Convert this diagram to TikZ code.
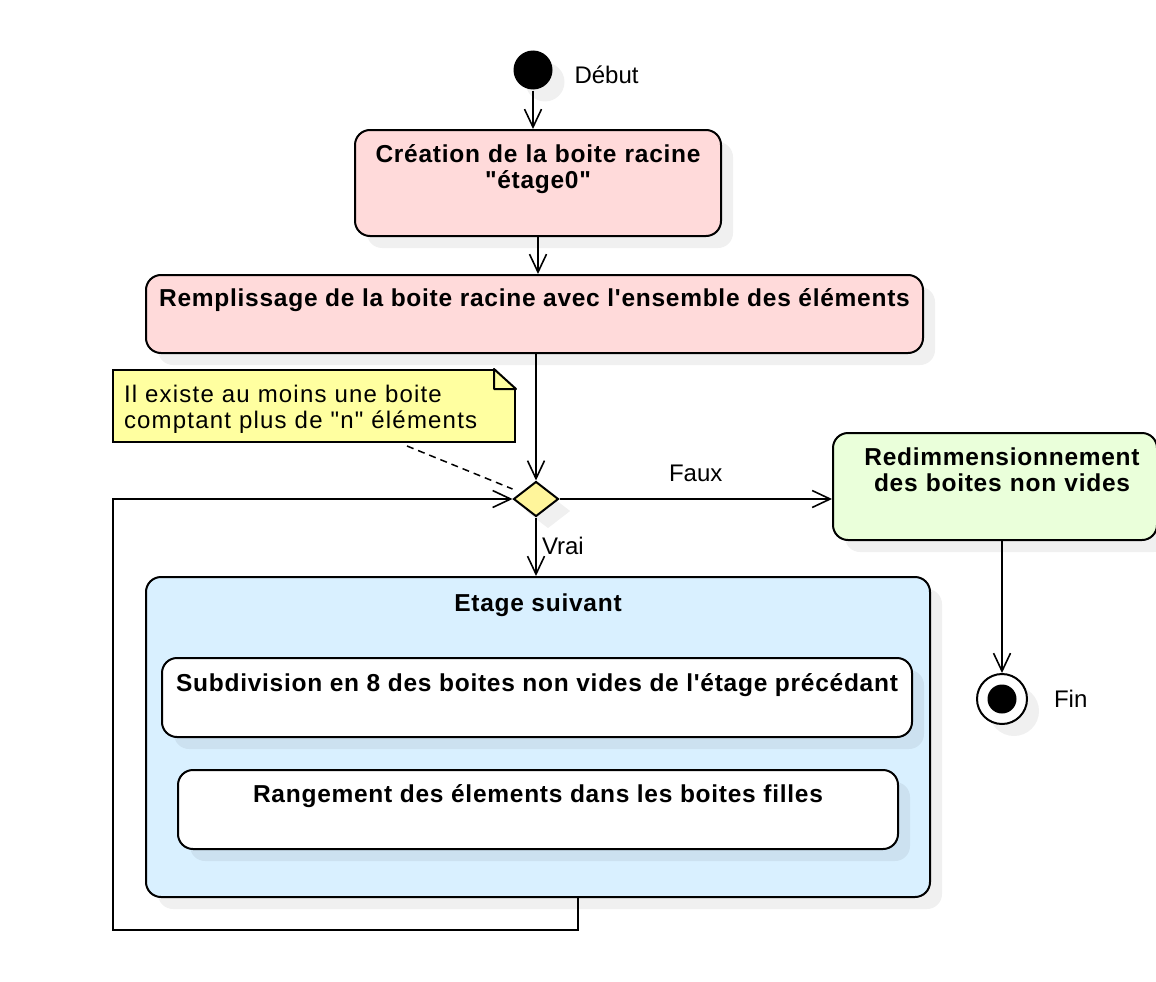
\documentclass[tikz,border=0pt]{standalone}
\usepackage{fontspec}
\setmainfont{Liberation Sans}[Ligatures=TeXOff]
\newfontfamily\spacedfont{Liberation Sans}[Ligatures=TeXOff,LetterSpace=3]
\newfontfamily\notefont{Liberation Sans}[Ligatures=TeXOff,LetterSpace=5]
\usetikzlibrary{arrows.meta,shapes.geometric,shadows}
\definecolor{actpink}{RGB}{255,218,218}
\definecolor{actblue}{RGB}{217,240,255}
\definecolor{actgreen}{RGB}{234,255,218}
\definecolor{noteyellow}{RGB}{255,255,160}
\definecolor{decyellow}{RGB}{255,245,155}

\begin{document}
\begin{tikzpicture}
  [x=1pt, y=-1pt, line width=2pt,
   flow/.style={-{Straight Barb[length=18pt,width=17pt,line width=1.6pt]}},
   soft shadow/.style={drop shadow={shadow xshift=12pt, shadow yshift=-12pt, fill=black, opacity=0.06}},
   action/.style={draw, rounded corners=15pt, soft shadow, inner sep=0pt},
   acttext/.style={font=\spacedfont\bfseries\fontsize{24.5}{26}\selectfont, align=center, anchor=base, inner sep=0pt},
   lbltext/.style={font=\fontsize{24}{26}\selectfont, inner sep=0pt}]
  \useasboundingbox (0,0) rectangle (1156,982);

  \node[circle, fill=black, minimum size=39pt, inner sep=0pt, soft shadow] (start) at (533,70) {};
  \node[lbltext, anchor=base west] (start-l) at ([xshift=20pt,yshift=-13pt]start.east) {Début};

  \node[action, fill=actpink, minimum width=366pt, minimum height=106pt] (crea) at (538,183) {};
  \node[acttext, text width=360pt] (crea-t) at ([yshift=-33pt]crea.north) {Création de la boite racine\\"étage0"};
  \node[action, fill=actpink, minimum width=777pt, minimum height=78pt] (remp) at (534.5,314) {};
  \node[acttext] (remp-t) at ([yshift=-32pt]remp.north) {Remplissage de la boite racine avec l'ensemble des éléments};

  % note
  \node[draw, fill=noteyellow, minimum width=402pt, minimum height=72pt, inner sep=0pt] (note) at (314,406) {};
  \fill[white] ([xshift=-22pt,yshift=1.5pt]note.north east) -- ([xshift=2pt,yshift=1.5pt]note.north east)
    -- ([xshift=2pt,yshift=-21pt]note.north east) -- cycle;
  \draw[fill=noteyellow, line join=round] ([xshift=-22pt]note.north east) -- ([yshift=-20pt]note.north east)
    -- ([xshift=-22pt,yshift=-20pt]note.north east) -- cycle;
  \node[font=\notefont\fontsize{24}{26}\selectfont, inner sep=0pt, align=left, anchor=base west, text width=390pt]
    (note-t) at ([xshift=11pt,yshift=-33pt]note.north west) {Il existe au moins une boite\\comptant plus de "n" éléments};

  \node[diamond, draw, fill=decyellow, minimum width=45pt, minimum height=35pt, inner sep=0pt, soft shadow] (dec) at (536,499) {};

  \node[action, fill=actgreen, minimum width=324pt, minimum height=107pt] (redim) at (995,486.5) {};
  \node[acttext, text width=320pt] (redim-t) at ([xshift=7pt,yshift=-33pt]redim.north) {Redimmensionnement\\des boites non vides};

  \node[circle, draw, fill=white, minimum size=50pt, inner sep=0pt, soft shadow] (fin) at (1002,699) {};
  \node[circle, fill=black, minimum size=29pt, inner sep=0pt] (fin-c) at (fin) {};
  \node[lbltext, anchor=base west] (fin-l) at ([xshift=25pt,yshift=-8pt]fin.east) {Fin};

  \node[action, fill=actblue, minimum width=784pt, minimum height=320pt] (etage) at (538,737) {};
  \node[acttext] (etage-t) at ([yshift=-35pt]etage.north) {Etage suivant};
  \node[action, fill=white, minimum width=750pt, minimum height=79pt] (subdiv) at (537,697.5) {};
  \node[acttext] (subdiv-t) at ([yshift=-34pt]subdiv.north) {Subdivision en 8 des boites non vides de l'étage précédant};
  \node[action, fill=white, minimum width=720pt, minimum height=79pt] (range) at (538,809.5) {};
  \node[acttext] (range-t) at ([yshift=-33pt]range.north) {Rangement des élements dans les boites filles};

  \draw[flow] (start) -- (start |- crea.north);
  \draw[flow] (crea) -- (crea |- remp.north);
  \draw[flow] (remp.south -| dec) -- (dec.north);
  \draw[flow] (dec) -- node[lbltext, anchor=base, yshift=18pt] (faux-l) {Faux} (dec -| redim.west);
  \draw[flow] (dec) -- node[lbltext, anchor=base west, xshift=5pt, yshift=-8pt] (vrai-l) {Vrai} (dec |- etage.north);
  \draw[flow] (fin |- redim.south) -- (fin);
  \draw[dashed, line width=1.5pt, dash pattern=on 7pt off 5pt] ([xshift=93pt,yshift=-3pt]note.south) -- ([yshift=10pt]dec.west);

  % retour vers le test
  \coordinate (loopout) at ([xshift=40pt]etage.south);
  \coordinate (loopleft) at (113,499);
  \draw[flow] (loopout) -- ++(0,32) -| (loopleft) -- (dec.west);
\end{tikzpicture}
\end{document}
